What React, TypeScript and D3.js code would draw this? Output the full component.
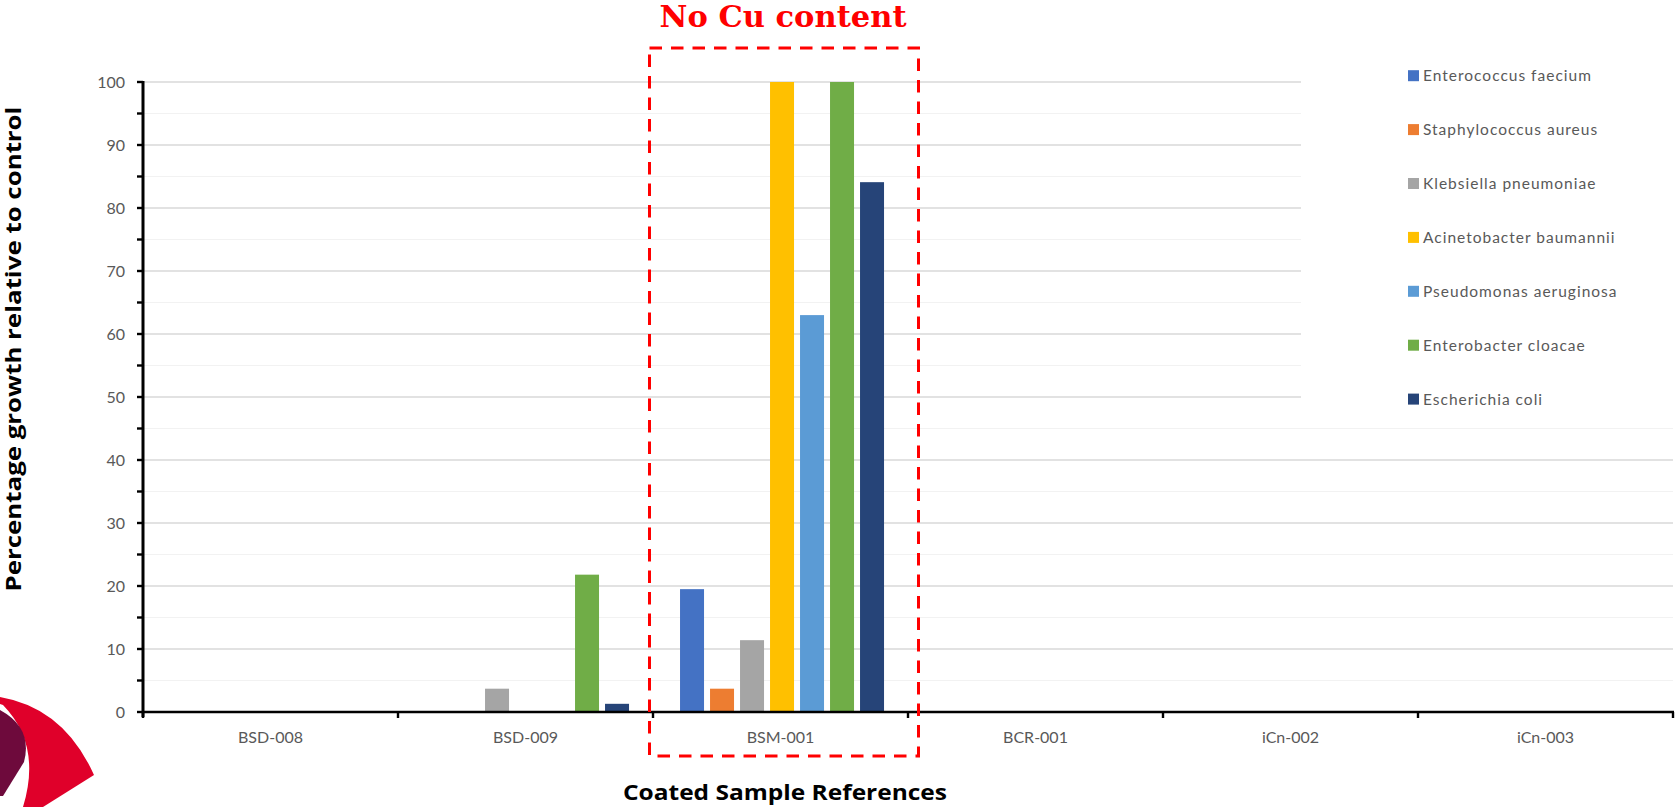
import React from "react";
import * as d3 from "d3";

const categories = ["BSD-008", "BSD-009", "BSM-001", "BCR-001", "iCn-002", "iCn-003"];
const seriesNames = [
  "Enterococcus faecium",
  "Staphylococcus aureus",
  "Klebsiella pneumoniae",
  "Acinetobacter baumannii",
  "Pseudomonas aeruginosa",
  "Enterobacter cloacae",
  "Escherichia coli",
];
const seriesColors = ["#4472C4", "#ED7D31", "#A5A5A5", "#FFC000", "#5B9BD5", "#70AD47", "#264478"];
// values per series, one per category
const enterococcus = [0, 0, 19.5, 0, 0, 0];
const staphylococcus = [0, 0, 3.7, 0, 0, 0];
const klebsiella = [0, 3.7, 11.4, 0, 0, 0];
const acinetobacter = [0, 0, 100, 0, 0, 0];
const pseudomonas = [0, 0, 63, 0, 0, 0];
const enterobacter = [0, 21.8, 100, 0, 0, 0];
const escherichia = [0, 1.3, 84.1, 0, 0, 0];
const seriesValues = [enterococcus, staphylococcus, klebsiella, acinetobacter, pseudomonas, enterobacter, escherichia];
const yMajorTicks = [0, 10, 20, 30, 40, 50, 60, 70, 80, 90, 100];
const yMinorTicks = [5, 15, 25, 35, 45, 55, 65, 75, 85, 95];

const W = 1678;
const H = 807;
const plotLeft = 143;
const plotRight = 1673;
const plotTop = 82;
const plotBottom = 712;

export default function App() {
  const y = d3.scaleLinear().domain([0, 100]).range([plotBottom, plotTop]);
  const x0 = d3.scaleBand<string>().domain(categories).range([plotLeft, plotRight]).padding(0);
  const x1 = d3
    .scaleBand<string>()
    .domain(seriesNames)
    .range([0, x0.bandwidth()])
    .paddingInner(0.2)
    .paddingOuter(0.85)
    .align(0.53);

  const labelFont = "Lato, 'Open Sans', sans-serif";
  const boundaries = [...categories.map((c) => x0(c) as number), plotRight];

  const redPath = "M0,697 Q64,708 94,775 L43,807 L23,807 Q42,745 3,705 L0,704 Z";
  const maroonPath = "M0,710 Q33,728 24,762 L3,796 L0,796 Z";

  return (
    <svg
      width={W}
      height={H}
      style={{ position: "absolute", left: 0, top: 0, display: "block", background: "#fff" }}
    >
      <rect x={0} y={0} width={W} height={H} fill="#fff" />
      {/* grid */}
      {yMinorTicks.map((t) => (
        <line key={"mg" + t} x1={plotLeft} x2={plotRight} y1={y(t)} y2={y(t)} stroke="#f2f2f2" strokeWidth={1.2} />
      ))}
      {yMajorTicks.map((t) => (
        <line key={"g" + t} x1={plotLeft} x2={plotRight} y1={y(t)} y2={y(t)} stroke="#d9d9d9" strokeWidth={1.4} />
      ))}
      {/* legend background covering grid */}
      <rect x={1301} y={0} width={W - 1301} height={418} fill="#fff" />

      {/* bars */}
      {categories.map((c, ci) => (
        <g key={c} transform={`translate(${x0(c)},0)`}>
          {seriesNames.map((s, si) => {
            const v = seriesValues[si][ci];
            if (!v) return null;
            return (
              <rect
                key={s}
                x={x1(s)}
                y={y(v)}
                width={x1.bandwidth()}
                height={y(0) - y(v)}
                fill={seriesColors[si]}
              />
            );
          })}
        </g>
      ))}

      {/* axes */}
      <line x1={plotLeft} x2={plotLeft} y1={plotTop - 1} y2={plotBottom + 5} stroke="#000" strokeWidth={3} />
      <line x1={plotLeft - 1} x2={plotRight + 1} y1={plotBottom} y2={plotBottom} stroke="#000" strokeWidth={2.6} />
      {[...yMajorTicks, ...yMinorTicks].map((t) => (
        <line key={"t" + t} x1={plotLeft - 6} x2={plotLeft} y1={y(t)} y2={y(t)} stroke="#000" strokeWidth={2.4} />
      ))}
      {boundaries.map((b, i) => (
        <line key={"xt" + i} x1={b} x2={b} y1={plotBottom} y2={plotBottom + 6} stroke="#000" strokeWidth={2.4} />
      ))}
      {yMajorTicks.map((t) => (
        <text
          key={"yl" + t}
          x={125}
          y={y(t)}
          dy="0.36em"
          textAnchor="end"
          fill="#595959"
          fontFamily={labelFont}
          fontSize={16}
        >
          {t}
        </text>
      ))}
      {categories.map((c) => (
        <text
          key={"xl" + c}
          x={(x0(c) as number) + x0.bandwidth() / 2}
          y={743}
          textAnchor="middle"
          fill="#595959"
          fontFamily={labelFont}
          fontSize={16}
        >
          {c}
        </text>
      ))}

      {/* axis titles */}
      <text
        x={785}
        y={800}
        textAnchor="middle"
        fontFamily="'Open Sans', sans-serif"
        fontWeight="bold"
        fontSize={21}
        fill="#000"
        textLength={324}
        lengthAdjust="spacingAndGlyphs"
      >
        Coated Sample References
      </text>
      <text
        transform="translate(21,349) rotate(-90)"
        textAnchor="middle"
        fontFamily="'Open Sans', sans-serif"
        fontWeight="bold"
        fontSize={21}
        fill="#000"
        textLength={485}
        lengthAdjust="spacingAndGlyphs"
      >
        Percentage growth relative to control
      </text>

      {/* legend */}
      {seriesNames.map((s, i) => {
        const cy = 75.7 + i * 53.9;
        return (
          <g key={"lg" + s}>
            <rect x={1408} y={cy - 5.5} width={11} height={11} fill={seriesColors[i]} />
            <text x={1423} y={cy} dy="0.36em" fill="#595959" fontFamily={labelFont} fontSize={15.5} letterSpacing={1}>
              {s}
            </text>
          </g>
        );
      })}

      {/* annotation */}
      <rect
        x={649.5}
        y={48}
        width={269}
        height={708}
        fill="none"
        stroke="#ff0000"
        strokeWidth={3}
        strokeDasharray="12.5 9"
      />
      <text
        x={783}
        y={27}
        textAnchor="middle"
        fontFamily="'DejaVu Serif', serif"
        fontWeight="bold"
        fontSize={30}
        fill="#ff0000"
        textLength={247}
        lengthAdjust="spacingAndGlyphs"
      >
        No Cu content
      </text>

      {/* logo fragment */}
      <path d={redPath} fill="#e0002a" />
      <path d={maroonPath} fill="#6e0a3c" />
    </svg>
  );
}
